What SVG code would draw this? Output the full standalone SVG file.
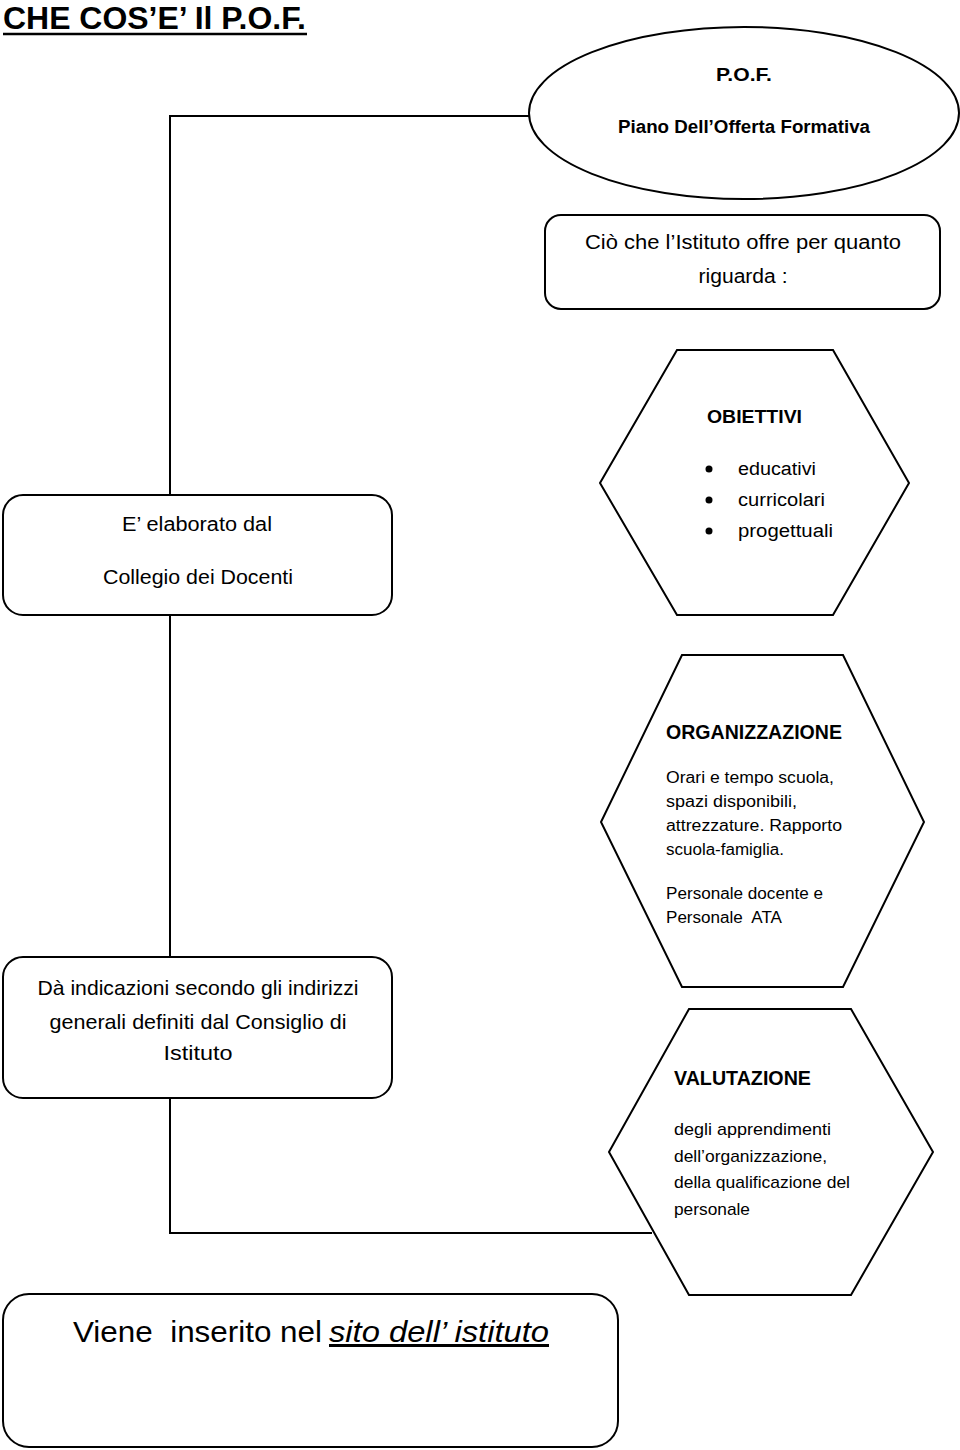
<svg xmlns="http://www.w3.org/2000/svg" width="960" height="1450" viewBox="0 0 960 1450">
<defs>
<style>
.shape{fill:#fff;stroke:#000;stroke-width:2}
.conn{fill:none;stroke:#000;stroke-width:2}
text{font-family:"Liberation Sans Narrow","Liberation Sans",Arial,sans-serif;fill:#000;white-space:pre}
.b{font-weight:bold}
.c{text-anchor:middle}
</style>
</defs>
<rect width="960" height="1450" fill="#fff"/>
<g id="title">
<text x="3" y="29" class="b" font-size="31" textLength="303" lengthAdjust="spacingAndGlyphs">CHE COS’E’ Il P.O.F.</text>
<line x1="3" y1="34" x2="307" y2="34" stroke="#000" stroke-width="2.5"/>
</g>
<g id="connectors">
<polyline class="conn" points="529,116 170,116 170,495"/>
<line class="conn" x1="170" y1="615" x2="170" y2="957"/>
<polyline class="conn" points="170,1098 170,1233 652,1233"/>
</g>
<g id="pof">
<ellipse class="shape" cx="744" cy="113" rx="215" ry="86"/>
<text x="744" y="81" class="b c" font-size="18" textLength="56" lengthAdjust="spacingAndGlyphs">P.O.F.</text>
<text x="744" y="133" class="b c" font-size="18" textLength="252" lengthAdjust="spacingAndGlyphs">Piano Dell’Offerta Formativa</text>
</g>
<g id="cio">
<rect class="shape" x="545" y="215" width="395" height="94" rx="16"/>
<text x="743" y="249" class="c" font-size="20" textLength="316" lengthAdjust="spacingAndGlyphs">Ciò che l’Istituto offre per quanto</text>
<text x="743" y="283" class="c" font-size="20" textLength="89" lengthAdjust="spacingAndGlyphs">riguarda :</text>
</g>
<g id="elaborato">
<rect class="shape" x="3" y="495" width="389" height="120" rx="20"/>
<text x="197" y="531" class="c" font-size="20" textLength="150" lengthAdjust="spacingAndGlyphs">E’ elaborato dal</text>
<text x="198" y="584" class="c" font-size="20" textLength="190" lengthAdjust="spacingAndGlyphs">Collegio dei Docenti</text>
</g>
<g id="obiettivi">
<polygon class="shape" points="677,350 833,350 909,483 833,615 677,615 600,483"/>
<text x="707" y="423" class="b" font-size="19" textLength="95" lengthAdjust="spacingAndGlyphs">OBIETTIVI</text>
<circle cx="709" cy="469" r="3.5"/>
<circle cx="709" cy="500" r="3.5"/>
<circle cx="709" cy="531" r="3.5"/>
<text x="738" y="475" font-size="18" textLength="78" lengthAdjust="spacingAndGlyphs">educativi</text>
<text x="738" y="506" font-size="18" textLength="87" lengthAdjust="spacingAndGlyphs">curricolari</text>
<text x="738" y="537" font-size="18" textLength="95" lengthAdjust="spacingAndGlyphs">progettuali</text>
</g>
<g id="organizzazione">
<polygon class="shape" points="682,655 843,655 924,822 843,987 682,987 601,822"/>
<text x="666" y="739" class="b" font-size="20" textLength="176" lengthAdjust="spacingAndGlyphs">ORGANIZZAZIONE</text>
<text x="666" y="783" font-size="16" textLength="168" lengthAdjust="spacingAndGlyphs">Orari e tempo scuola,</text>
<text x="666" y="807" font-size="16" textLength="131" lengthAdjust="spacingAndGlyphs">spazi disponibili,</text>
<text x="666" y="831" font-size="16" textLength="176" lengthAdjust="spacingAndGlyphs">attrezzature. Rapporto</text>
<text x="666" y="855" font-size="16" textLength="118" lengthAdjust="spacingAndGlyphs">scuola-famiglia.</text>
<text x="666" y="899" font-size="16" textLength="157" lengthAdjust="spacingAndGlyphs">Personale docente e</text>
<text x="666" y="923" font-size="16" textLength="116" lengthAdjust="spacingAndGlyphs">Personale  ATA</text>
</g>
<g id="indicazioni">
<rect class="shape" x="3" y="957" width="389" height="141" rx="20"/>
<text x="198" y="995" class="c" font-size="21" textLength="321" lengthAdjust="spacingAndGlyphs">Dà indicazioni secondo gli indirizzi</text>
<text x="198" y="1029" class="c" font-size="21" textLength="297" lengthAdjust="spacingAndGlyphs">generali definiti dal Consiglio di</text>
<text x="198" y="1060" class="c" font-size="21" textLength="69" lengthAdjust="spacingAndGlyphs">Istituto</text>
</g>
<g id="valutazione">
<polygon class="shape" points="689,1009 851,1009 933,1152 851,1295 689,1295 609,1152"/>
<text x="674" y="1085" class="b" font-size="20" textLength="137" lengthAdjust="spacingAndGlyphs">VALUTAZIONE</text>
<text x="674" y="1135" font-size="17" textLength="157" lengthAdjust="spacingAndGlyphs">degli apprendimenti</text>
<text x="674" y="1162" font-size="17" textLength="153" lengthAdjust="spacingAndGlyphs">dell’organizzazione,</text>
<text x="674" y="1188" font-size="17" textLength="176" lengthAdjust="spacingAndGlyphs">della qualificazione del</text>
<text x="674" y="1215" font-size="17" textLength="76" lengthAdjust="spacingAndGlyphs">personale</text>
</g>
<g id="sito">
<rect class="shape" x="3" y="1294" width="615" height="153" rx="26"/>
<text x="73" y="1342" font-size="30" textLength="249" lengthAdjust="spacingAndGlyphs">Viene  inserito nel</text>
<text x="329" y="1342" font-size="30" font-style="italic" text-decoration="underline" textLength="220" lengthAdjust="spacingAndGlyphs">sito dell’ istituto</text>
</g>
</svg>
